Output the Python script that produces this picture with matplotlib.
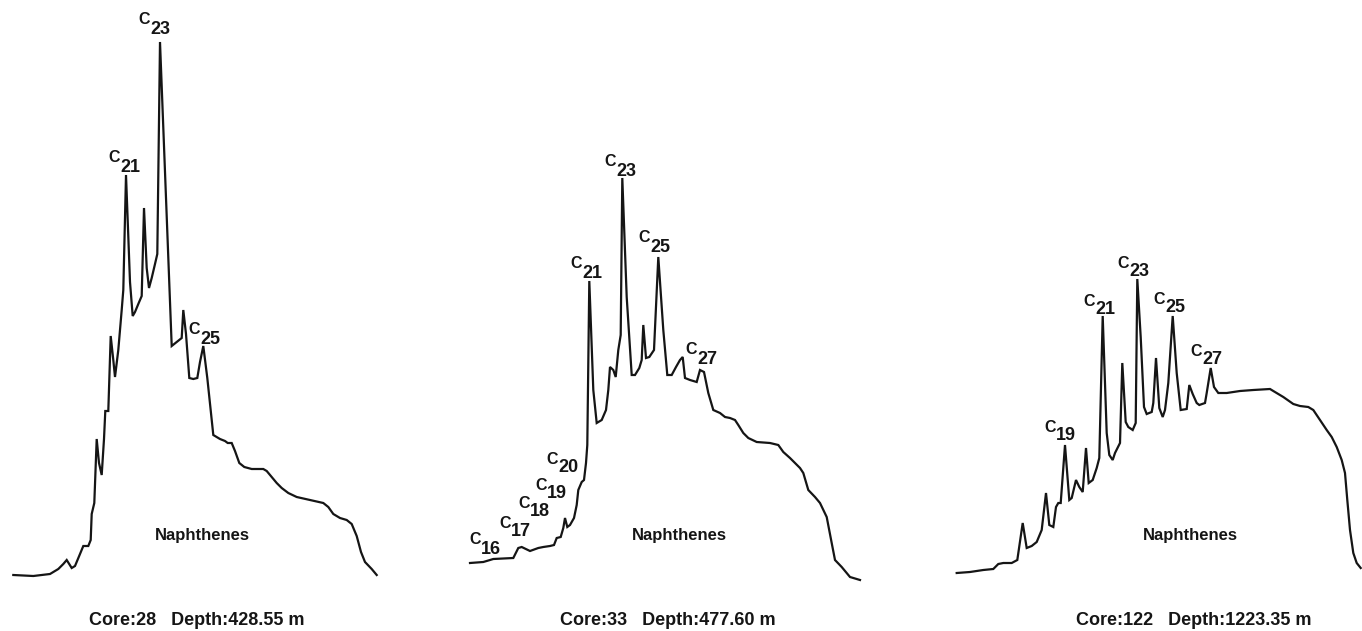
import matplotlib.pyplot as plt

# traces: retention position (x) and pen position from the top (y)
core28_x = [13.3, 33.3, 50, 58.3, 63.3, 66.7, 71.7, 75, 80, 83.3, 88.3, 90.7, 91.7, 94.3,
            96.7, 99, 101.7, 104, 105.3, 108.3, 110.7, 113.3, 115, 118.3, 121.7, 123.3,
            126, 130, 132.7, 135, 138.3, 141.7, 144, 146.7, 149, 151.7, 155, 157.3, 160,
            171.7, 176.7, 181.7, 183.3, 186, 189.3, 193.3, 197.3, 200, 203.3, 207.3, 213.3,
            220, 225, 227.7, 231.7, 235, 239.3, 244.3, 251.7, 263.3, 266.7, 271.7, 276.7,
            281.7, 288.3, 296.7, 310, 323.3, 328.3, 333.3, 340, 346.7, 351.7, 356.7, 361,
            365, 371.7, 376.7]
core28_y = [575, 576, 574, 569, 564, 560, 568, 566, 554, 546, 546, 540, 514, 503,
            439, 463, 475, 439, 411, 411, 336, 360, 377, 350, 310, 290,
            175, 282, 316, 312, 304, 296, 208, 268, 288, 278, 264, 254, 42,
            346, 342, 338, 310, 334, 378, 379, 378, 362, 346, 378, 435,
            439, 441, 443, 443, 451, 463, 467, 469, 469, 471, 477, 483,
            488, 493, 497, 500, 503, 507, 514, 518, 520, 524, 536, 552,
            562, 569, 575]

core33_x = [470, 483.3, 490, 493.3, 513.3, 518.3, 521.7, 530, 538.3, 543.3, 550, 554, 556.7,
            560.7, 563.3, 565, 567.3, 570, 574, 576.7, 578.3, 581.7, 584, 586, 587.3, 589.3,
            593.3, 596.7, 601.7, 606, 608.3, 610, 613.3, 615.7, 618.3, 620.7, 622.3, 626.7,
            631.7, 635, 639.3, 641.7, 643.3, 646, 649.3, 654, 658.3, 663.3, 667.3, 671.7,
            676, 680, 682.7, 685, 690, 696.7, 700, 704, 708.3, 713.3, 720, 725, 730, 735,
            738.3, 743.3, 748.3, 756.7, 770, 778.3, 783.3, 790, 795, 800, 803.3, 808.3, 815,
            820, 826.7, 831.7, 835, 841.7, 850, 860]
core33_y = [563, 562, 560, 559, 558, 548, 547, 551, 548, 547, 546, 545, 538,
            537, 528, 518, 527, 525, 518, 505, 490, 482, 480, 463, 445, 281,
            390, 423, 420, 410, 390, 367, 370, 377, 350, 335, 178, 297,
            375, 375, 368, 360, 325, 358, 357, 350, 257, 330, 375, 375,
            367, 360, 357, 378, 380, 382, 370, 372, 393, 410, 413, 417, 418, 420,
            425, 433, 438, 442, 443, 445, 452, 458, 463, 468, 473, 490, 497,
            503, 517, 543, 560, 567, 577, 580]

core122_x = [956.7, 970, 983.3, 993.3, 998.3, 1003.3, 1011.7, 1017.3, 1022.7, 1026.7, 1031.7,
             1036.7, 1041.7, 1046, 1049.3, 1053.3, 1056, 1058.3, 1060.7, 1065, 1069.3, 1071.7,
             1076, 1079.3, 1082.7, 1086, 1088.7, 1092.7, 1096.7, 1099.3, 1102.7, 1106.7, 1109.3,
             1112.7, 1115, 1120, 1122.3, 1125.7, 1128.3, 1132.7, 1135.7, 1137.3, 1140.7, 1144,
             1146.7, 1151.7, 1153.3, 1156, 1159.3, 1162.7, 1165, 1168.3, 1172.7, 1176.7, 1180.7,
             1186.7, 1189.3, 1192.7, 1196.7, 1199.3, 1205, 1206.7, 1210.7, 1214, 1218.3, 1226.7,
             1240, 1253.3, 1270, 1273.3, 1283.3, 1293.3, 1300, 1308.3, 1313.3, 1320, 1326.7,
             1331.7, 1336.7, 1341.7, 1345, 1347.3, 1350, 1353.3, 1356.7, 1360.7]
core122_y = [573, 572, 570, 569, 564, 563, 563, 560, 523, 548, 546,
             542, 530, 493, 525, 527, 507, 503, 503, 445, 500, 498,
             480, 487, 492, 448, 483, 480, 468, 458, 316, 433, 455,
             460, 453, 443, 363, 422, 427, 430, 423, 279, 337, 407,
             414, 412, 403, 358, 408, 417, 410, 383, 316, 373, 410,
             409, 385, 394, 403, 405, 403, 393, 368, 387, 393, 393,
             391, 390, 389, 391, 397, 404, 406, 407, 410, 420, 430,
             437, 447, 460, 473, 500, 530, 553, 563, 568]

# peak labels: carbon number, junction x, y of the "C", y of the subscript
core28_peaks = [("23", 150, 18, 27), ("21", 120, 155, 164), ("25", 200, 328, 337)]
core33_peaks = [("23", 616, 160, 169), ("21", 582, 261, 270), ("25", 650, 236, 245),
                ("27", 697, 348, 357), ("20", 558, 457, 465), ("19", 547, 484, 491),
                ("18", 530, 501, 509), ("17", 511, 522, 529), ("16", 481, 538, 546)]
core122_peaks = [("19", 1056, 426, 433), ("21", 1095, 299, 307), ("23", 1129, 261, 268),
                 ("25", 1165, 297, 305), ("27", 1202, 349, 357)]

captions = ["Core:28   Depth:428.55 m", "Core:33   Depth:477.60 m", "Core:122   Depth:1223.35 m"]
caption_x = [197, 668, 1194]
naph_x = [202, 679, 1190]

fig = plt.figure(figsize=(13.62, 6.31), dpi=100)
ax = fig.add_axes([0, 0, 1, 1])
ax.set_xlim(0, 1362)
ax.set_ylim(631, 0)
ax.axis("off")

font = dict(family="Liberation Sans", weight="bold", color="#151515")

for xs, ys in [(core28_x, core28_y), (core33_x, core33_y), (core122_x, core122_y)]:
    ax.plot(xs, ys, color="#151515", lw=1.6, solid_joinstyle="miter")

for peaks in [core28_peaks, core33_peaks, core122_peaks]:
    for n, x, yc, yn in peaks:
        ax.text(x, yc + 6.5, "C", ha="right", va="baseline", fontsize=11.5, **font)
        ax.text(x, yn + 7.5, n, ha="left", va="baseline", fontsize=13, **font)

for cap, cx, nx in zip(captions, caption_x, naph_x):
    ax.text(nx, 540, "Naphthenes", ha="center", va="baseline", fontsize=12, **font)
    ax.text(cx, 625, cap, ha="center", va="baseline", fontsize=13, **font)

fig.savefig("out.png", dpi=100)
